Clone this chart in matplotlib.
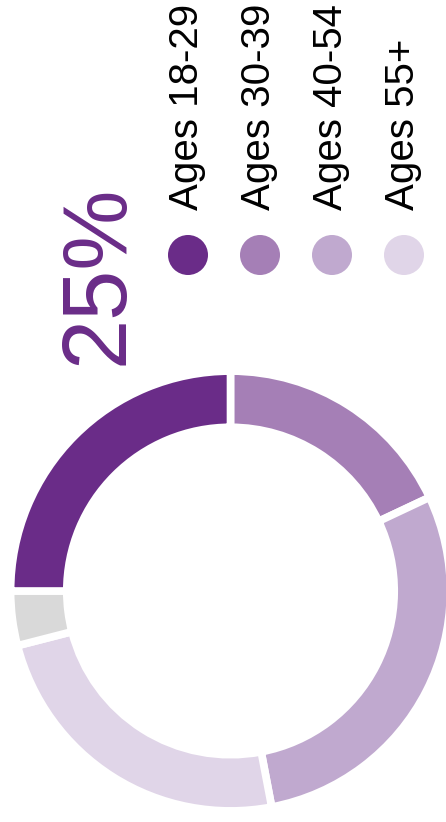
import matplotlib.pyplot as plt

# donut segments, clockwise from 12 o'clock
segments = ["Ages 30-39", "Ages 40-54", "Ages 55+", "Other", "Ages 18-29"]
shares = [18, 29, 24, 4, 25]
seg_colors = ["#a57fb6", "#c0a9cf", "#e0d5e8", "#d9d9d9", "#6a2c88"]

legend_labels = ["Ages 18-29", "Ages 30-39", "Ages 40-54", "Ages 55+"]
legend_colors = ["#6a2c88", "#a57fb6", "#c0a9cf", "#e0d5e8"]
headline = "25%"

plt.rcParams["font.family"] = ["Liberation Sans", "DejaVu Sans"]

W, H = 446, 822
fig = plt.figure(figsize=(W / 100, H / 100), dpi=100)

# donut
R = 216
cx, cy = 230.5, 591
ax = fig.add_axes([(cx - R) / W, (H - cy - R) / H, 2 * R / W, 2 * R / H])
ax.pie(
    shares,
    colors=seg_colors,
    startangle=90,
    counterclock=False,
    radius=1.018,
    wedgeprops=dict(width=0.26, edgecolor="white", linewidth=5.5),
)
ax.set_xlim(-1, 1)
ax.set_ylim(-1, 1)
ax.set_aspect("equal")
ax.axis("off")

# overlay in pixel coords for legend + headline
ox = fig.add_axes([0, 0, 1, 1])
ox.set_xlim(0, W)
ox.set_ylim(H, 0)
ox.axis("off")

for i, (lab, col) in enumerate(zip(legend_labels, legend_colors)):
    x = 188 + 72 * i
    ox.scatter([x], [255], s=830, color=col, edgecolor="none")
    ox.text(x + 10, 210, lab, rotation=90, rotation_mode="anchor",
            ha="left", va="baseline", fontsize=29, color="black")

ox.text(123, 365, headline, rotation=90, rotation_mode="anchor",
        ha="left", va="baseline", fontsize=65, color="#6a2c88")

fig.savefig("out.png", dpi=100)
